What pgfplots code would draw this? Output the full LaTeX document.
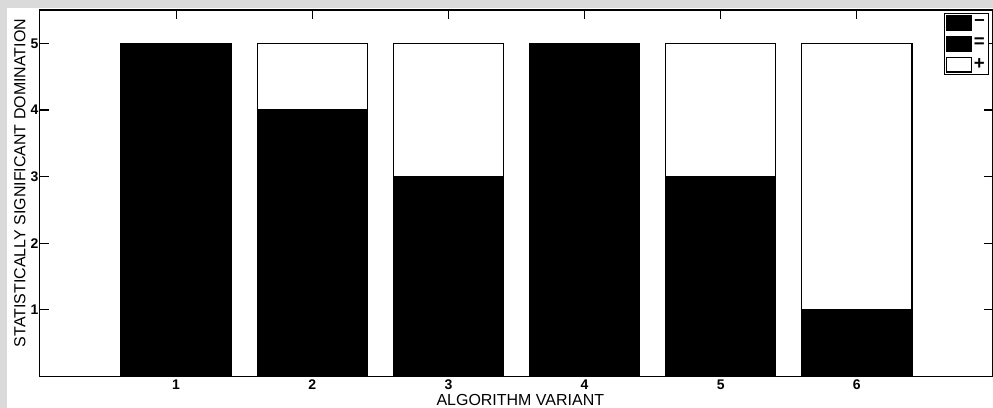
\documentclass[border=0pt]{standalone}
\usepackage{fontspec}
\setmainfont{Liberation Sans}
\usepackage{pgfplots}
\pgfplotsset{compat=1.18}
\definecolor{scangray}{RGB}{218,218,218}
\begin{document}
\begin{tikzpicture}
\begin{axis}[name=ax,
  scale only axis, width=715.5pt, height=275.25pt,
  ybar stacked, bar width=0.81,
  xmin=0, xmax=7, ymin=0, ymax=5.5,
  xtick={1,2,3,4,5,6}, ytick={1,2,3,4,5},
  tick align=inside, major tick length=6.5pt,
  axis line style={line width=0.8pt},
  every tick/.style={line width=0.8pt, black},
  /pgf/number format/assume math mode=true,
  ticklabel style={font=\fontsize{10.5}{12}\selectfont\bfseries},
  xticklabel style={inner sep=0pt, yshift=-2.3pt},
  yticklabel style={inner sep=1pt},
  xlabel={ALGORITHM VARIANT},
  ylabel={STATISTICALLY SIGNIFICANT DOMINATION},
  label style={font=\fontsize{12}{14}\selectfont},
  xlabel style={inner sep=0pt, at={(axis description cs:0.504,0)}, anchor=north, yshift=-13.3pt},
  ylabel style={inner sep=0pt, at={(ticklabel cs:0.528,2.5pt)}},
  legend style={at={(1,1)}, xshift=-3pt, yshift=-2pt, anchor=north east,
    draw=black, line width=0.8pt, inner sep=1.5pt, row sep=3.5pt,
    font=\fontsize{14}{15}\selectfont\bfseries,
    nodes={inner sep=1.2pt}},
  legend image code/.code={\draw[#1, line width=0.8pt] (0pt,-5.6pt) rectangle (18.75pt,5.6pt);},
]
\addplot[fill=black, draw=black, line width=0.8pt] coordinates {(1,5) (2,4) (3,3) (4,5) (5,3) (6,1)};
\addlegendentry{--}
\addplot[fill=black, draw=black, line width=0.8pt] coordinates {(1,0) (2,0) (3,0) (4,0) (5,0) (6,0)};
\addlegendentry{=}
\addplot[fill=white, draw=black, line width=0.8pt] coordinates {(1,0) (2,1) (3,2) (4,0) (5,2) (6,4)};
\addlegendentry{+}
\end{axis}
\pgfresetboundingbox
\path[use as bounding box] ([xshift=-30pt,yshift=-23.25pt]ax.south west) rectangle ([yshift=7.5pt]ax.north east);
\fill[scangray] ([xshift=-30pt,yshift=-23.25pt]ax.south west) rectangle ([xshift=-24.75pt,yshift=7.5pt]ax.north west);
\fill[scangray] ([xshift=-30pt,yshift=1.5pt]ax.north west) rectangle ([yshift=7.5pt]ax.north east);
\end{tikzpicture}
\end{document}
